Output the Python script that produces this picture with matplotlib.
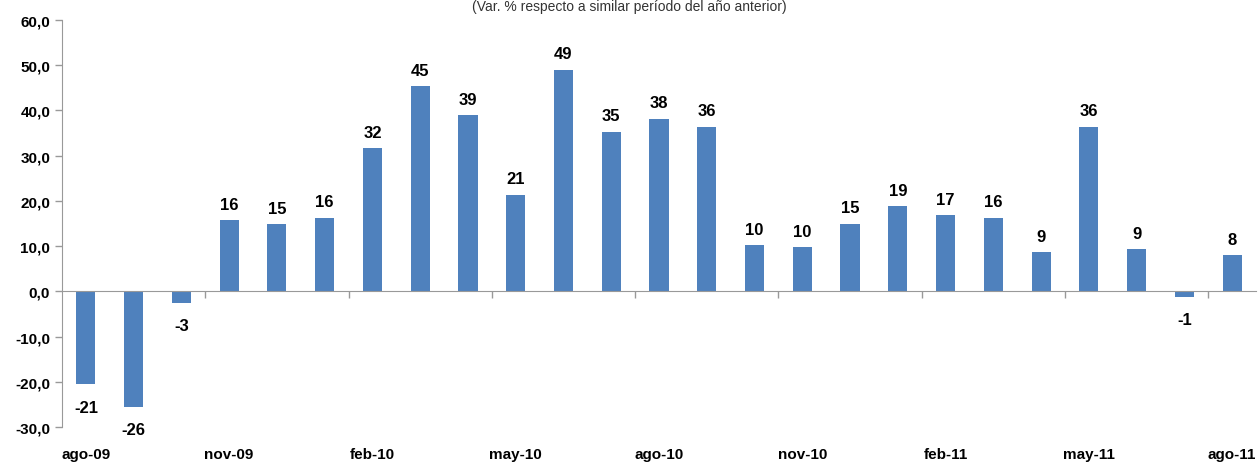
import numpy as np
import matplotlib.pyplot as plt
import matplotlib.transforms as mtransforms

plt.rcParams['font.family'] = ['Liberation Sans', 'DejaVu Sans']

# Data
months = ["ago-09", "sep-09", "oct-09", "nov-09", "dic-09", "ene-10", "feb-10",
          "mar-10", "abr-10", "may-10", "jun-10", "jul-10", "ago-10", "sep-10",
          "oct-10", "nov-10", "dic-10", "ene-11", "feb-11", "mar-11", "abr-11",
          "may-11", "jun-11", "jul-11", "ago-11"]
values = [-20.6, -25.6, -2.6, 15.7, 14.8, 16.3, 31.6, 45.3, 38.9, 21.4, 49.0,
          35.3, 38.2, 36.4, 10.2, 9.7, 15.0, 18.8, 16.8, 16.3, 8.6, 36.4, 9.3,
          -1.2, 8.0]
yticks = [-30, -20, -10, 0, 10, 20, 30, 40, 50, 60]

fig = plt.figure(figsize=(12.58, 4.64), dpi=100)
ax = fig.add_axes([62 / 1258, 1 - 428 / 464, 1194 / 1258, 407 / 464])

x = np.arange(len(values))
ax.bar(x, values, width=0.4, color='#4F81BD', zorder=2)

ax.set_xlim(-0.5, len(values) - 0.5)
ax.set_ylim(-30, 60)
ax.set_yticks(yticks)
ax.set_yticklabels([f"{v:.1f}".replace('.', ',') for v in yticks],
                   fontsize=11, fontweight='bold')

for s in ['top', 'right']:
    ax.spines[s].set_visible(False)
ax.spines['left'].set_color('#999999')
ax.spines['bottom'].set_color('#999999')
ax.spines['bottom'].set_position(('data', 0))
ax.spines['bottom'].set_zorder(3)
ax.tick_params(axis='y', colors='#999999', labelcolor='black', length=5, width=1)

# tick marks between quarters
ax.set_xticks(np.arange(2.5, len(values), 3))
ax.set_xticklabels([])
ax.tick_params(axis='x', colors='#999999', length=5, width=1, direction='out')

# month labels at the bottom
trans = mtransforms.blended_transform_factory(ax.transData, ax.transAxes)
for i in range(0, len(values), 3):
    ax.text(i, -0.066, months[i], transform=trans, ha='center', va='center',
            fontsize=11, fontweight='bold')

# value labels
for xi, v in zip(x, values):
    if v >= 0:
        ax.annotate(f"{v:.0f}", (xi, v), xytext=(0, 6), textcoords='offset points',
                    ha='center', va='bottom', fontsize=12, fontweight='bold')
    else:
        ax.annotate(f"{v:.0f}", (xi, v), xytext=(0, -11), textcoords='offset points',
                    ha='center', va='top', fontsize=12, fontweight='bold')

fig.text(0.5, 1 - 7 / 464, "(Var. % respecto a similar período del año anterior)",
         ha='center', va='center', fontsize=10, color='#333333')

fig.savefig("out.png", dpi=100)
